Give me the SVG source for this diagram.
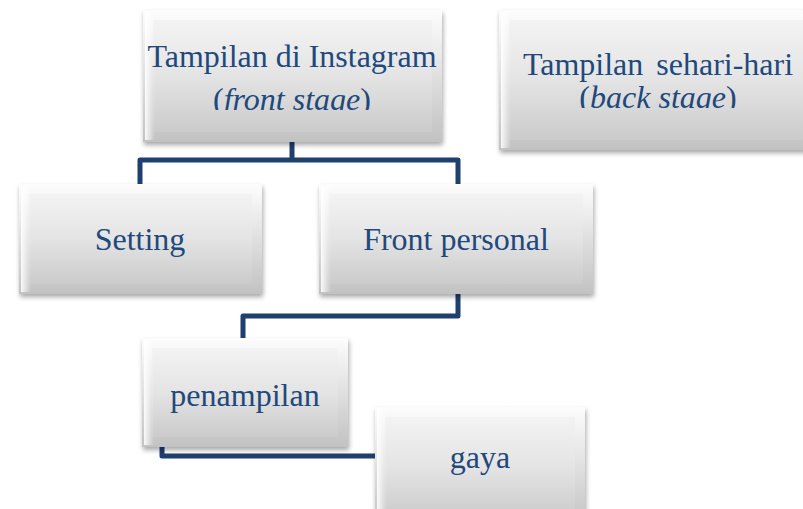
<svg xmlns="http://www.w3.org/2000/svg" width="803" height="509" viewBox="0 0 803 509">
<defs>
<linearGradient id="outer" x1="0" y1="0" x2="0" y2="1">
<stop offset="0" stop-color="#fdfdfd"/>
<stop offset="1" stop-color="#c2c2c2"/>
</linearGradient>
<linearGradient id="inner" x1="0" y1="0" x2="0" y2="1">
<stop offset="0" stop-color="#f3f3f3"/>
<stop offset="0.5" stop-color="#e4e4e4"/>
<stop offset="1" stop-color="#cbcbcb"/>
</linearGradient>
<linearGradient id="lft" x1="0" y1="0" x2="1" y2="0">
<stop offset="0" stop-color="#ffffff" stop-opacity="0.9"/>
<stop offset="1" stop-color="#ffffff" stop-opacity="0"/>
</linearGradient>
<filter id="sh" x="-10%" y="-10%" width="125%" height="130%">
<feGaussianBlur in="SourceAlpha" stdDeviation="2.5"/>
<feOffset dx="1" dy="3" result="b"/>
<feComponentTransfer><feFuncA type="linear" slope="0.35"/></feComponentTransfer>
<feMerge><feMergeNode/><feMergeNode in="SourceGraphic"/></feMerge>
</filter>
<clipPath id="c1"><rect x="143" y="10" width="299" height="100"/></clipPath>
<clipPath id="c2"><rect x="499" y="10" width="310" height="98"/></clipPath>
</defs>
<style>
.o{fill:url(#outer);filter:url(#sh)}
.i{fill:url(#inner)}
.l{fill:url(#lft)}
.t{font-family:"Liberation Serif","Times New Roman","DejaVu Serif",serif;font-size:32px;fill:#1F497D;text-anchor:middle}
.it{font-family:"Liberation Serif","Times New Roman","DejaVu Serif",serif;font-style:italic}
.c{fill:none;stroke:#1F3F6E;stroke-width:5;stroke-linejoin:round}
</style>
<g id="connectors">
<path class="c" d="M292 142 V160 M140 184 V160 H458 V184"/>
<path class="c" d="M458 294 V316 H243 V338"/>
<path class="c" d="M162 447 V456 H376"/>
</g>
<g id="node-front-stage">
<rect class="o" x="143" y="10" width="299" height="132"/>
<rect class="i" x="153" y="20" width="279" height="112"/>
<rect class="l" x="145" y="12" width="10" height="128"/>
<g clip-path="url(#c1)">
<text class="t" x="292" y="67">Tampilan di Instagram</text>
<text class="t" x="292" y="110">(<tspan class="it">front stage</tspan>)</text>
</g>
</g>
<g id="node-back-stage">
<rect class="o" x="499" y="10" width="320" height="140"/>
<rect class="i" x="509" y="20" width="300" height="120"/>
<rect class="l" x="501" y="12" width="10" height="136"/>
<g clip-path="url(#c2)">
<text class="t" x="658" y="75" word-spacing="5">Tampilan sehari-hari</text>
<text class="t" x="658" y="108">(<tspan class="it">back stage</tspan>)</text>
</g>
</g>
<g id="node-setting">
<rect class="o" x="19" y="184" width="243" height="110"/>
<rect class="i" x="29" y="194" width="223" height="90"/>
<rect class="l" x="21" y="186" width="10" height="106"/>
<text class="t" x="140" y="250">Setting</text>
</g>
<g id="node-front-personal">
<rect class="o" x="319" y="184" width="274" height="110"/>
<rect class="i" x="329" y="194" width="254" height="90"/>
<rect class="l" x="321" y="186" width="10" height="106"/>
<text class="t" x="456" y="250">Front personal</text>
</g>
<g id="node-penampilan">
<rect class="o" x="142" y="338" width="206" height="109"/>
<rect class="i" x="152" y="348" width="186" height="89"/>
<rect class="l" x="144" y="340" width="10" height="105"/>
<text class="t" x="245" y="406">penampilan</text>
</g>
<g id="node-gaya">
<rect class="o" x="375" y="407" width="210" height="120"/>
<rect class="i" x="385" y="417" width="190" height="100"/>
<rect class="l" x="377" y="409" width="10" height="100"/>
<text class="t" x="480" y="468">gaya</text>
</g>
</svg>
